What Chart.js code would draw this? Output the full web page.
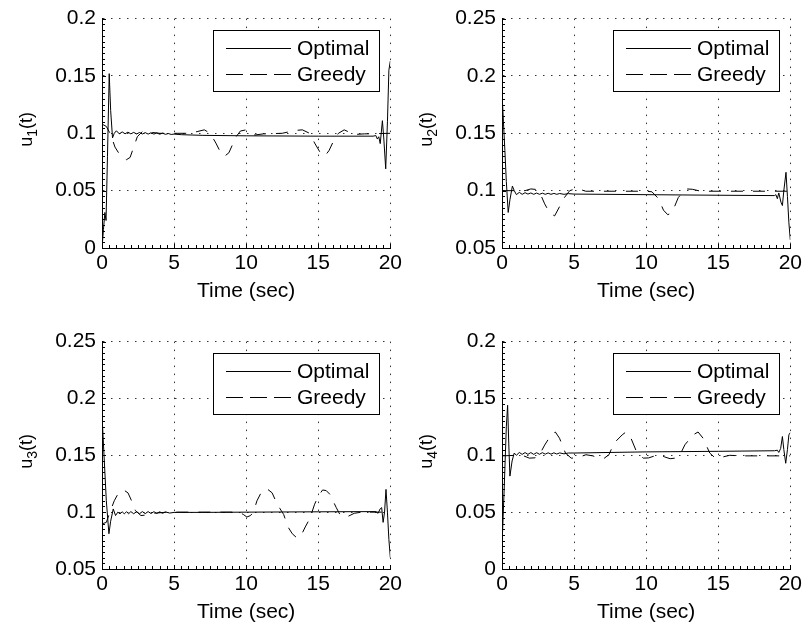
<!DOCTYPE html>
<html lang="en">
<head>
<meta charset="UTF-8" />
<title>Control inputs: Optimal vs Greedy</title>
<script src="https://cdn.jsdelivr.net/npm/chart.js"></script>
<style>
  body {
    margin: 0;
    background: #fff;
    width: 809px;
    height: 633px;
    position: relative;
    overflow: hidden;
  }
  canvas {
    position: absolute;
  }
</style>
</head>
<body>

<canvas id="u1" width="405" height="304" style="left:0px;top:0px"></canvas>
<canvas id="u2" width="405" height="304" style="left:400px;top:0px"></canvas>
<canvas id="u3" width="405" height="302" style="left:0px;top:323px"></canvas>
<canvas id="u4" width="405" height="302" style="left:400px;top:323px"></canvas>

<script>
  // [time (sec), value] pairs
  const u1Optimal = [[0,0],[0.1,0.016],[0.2,0.031],[0.28,0.024],[0.38,0.08],[0.5,0.152],[0.6,0.12],[0.73,0.096],[0.85,0.1],
    [1.0,0.1022],[1.2,0.0995],[1.4,0.1012],[1.6,0.0996],[1.8,0.101],[2.0,0.0995],[2.2,0.1008],[2.4,0.0994],[2.6,0.1007],
    [2.8,0.0994],[3.0,0.1006],[3.2,0.0993],[3.4,0.1005],[3.6,0.0993],[3.8,0.1003],[4.0,0.0992],[4.2,0.1001],[4.4,0.0991],
    [4.6,0.0998],[4.8,0.099],[5.0,0.0993],[5.5,0.0988],[7.0,0.0982],[10.0,0.0978],[15.0,0.0975],[18.8,0.0975],[19.0,0.098],
    [19.1,0.095],[19.2,0.097],[19.3,0.091],[19.45,0.111],[19.55,0.095],[19.68,0.069],[19.8,0.11],[19.9,0.155],[20.0,0.163]];
  const u1Greedy = [[0,0.108],[0.3,0.106],[0.6,0.099],[0.9,0.088],[1.2,0.082],[1.45,0.079],[1.7,0.077],[1.95,0.079],[2.2,0.088],
    [2.45,0.097],[2.8,0.1015],[3.3,0.101],[4.0,0.1],[6.0,0.1],[6.6,0.1015],[7.1,0.103],[7.5,0.1],[7.9,0.0915],[8.2,0.084],
    [8.5,0.08],[8.8,0.083],[9.05,0.09],[9.3,0.097],[9.6,0.102],[10.0,0.103],[10.6,0.0985],[11.2,0.0995],[12.5,0.1],
    [13.4,0.1025],[13.9,0.103],[14.4,0.1],[14.75,0.0915],[15.1,0.084],[15.45,0.08],[15.75,0.085],[16.05,0.093],[16.4,0.1],
    [16.8,0.103],[17.5,0.099],[18.2,0.0995],[20.0,0.1]];

  const u2Optimal = [[0,0.185],[0.1,0.16],[0.2,0.135],[0.3,0.108],[0.43,0.081],[0.55,0.092],[0.72,0.104],[0.85,0.1],
    [1.0,0.0965],[1.2,0.0985],[1.4,0.0968],[1.6,0.0982],[1.8,0.097],[2.0,0.098],[2.2,0.0968],[2.4,0.0979],[2.6,0.0968],
    [2.8,0.0978],[3.0,0.0968],[3.2,0.0977],[3.4,0.0968],[3.6,0.0976],[3.8,0.0968],[4.0,0.0975],[4.3,0.0968],[4.6,0.0974],
    [5.0,0.097],[10.0,0.0965],[15.0,0.096],[18.9,0.0957],[19.0,0.0965],[19.1,0.093],[19.2,0.098],[19.35,0.09],[19.45,0.087],
    [19.55,0.1],[19.7,0.116],[19.8,0.095],[19.9,0.072],[20.0,0.057]];
  const u2Greedy = [[0,0.1],[1.6,0.1],[2.0,0.1015],[2.4,0.101],[2.7,0.096],[2.96,0.0885],[3.2,0.083],[3.37,0.08],[3.65,0.078],
    [3.99,0.086],[4.33,0.094],[4.7,0.1],[5.2,0.102],[5.8,0.0995],[10.0,0.0995],[10.4,0.099],[10.86,0.093],[11.2,0.083],
    [11.5,0.079],[11.8,0.081],[12.23,0.094],[12.5,0.098],[12.8,0.1015],[13.2,0.1012],[13.8,0.0995],[20.0,0.0995]];

  const u3Optimal = [[0,0.185],[0.1,0.16],[0.2,0.135],[0.3,0.11],[0.48,0.081],[0.6,0.092],[0.78,0.1028],[0.94,0.097],
    [1.1,0.1],[1.25,0.0985],[1.4,0.1003],[1.55,0.0985],[1.7,0.1004],[1.85,0.0986],[2.0,0.1005],[2.2,0.0986],[2.4,0.1005],
    [2.6,0.0986],[2.8,0.1005],[3.0,0.0987],[3.2,0.1005],[3.4,0.0988],[3.6,0.1004],[3.8,0.0989],[4.0,0.1003],[4.2,0.099],
    [4.4,0.1002],[4.7,0.0992],[5.0,0.0998],[7.0,0.0998],[10.0,0.1],[15.0,0.1003],[19.0,0.1005],[19.15,0.099],[19.3,0.103],
    [19.4,0.104],[19.5,0.091],[19.6,0.1],[19.7,0.12],[19.8,0.1],[19.9,0.076],[20.0,0.06]];
  const u3Greedy = [[0,0.0897],[0.3,0.091],[0.55,0.1],[0.85,0.11],[1.15,0.117],[1.5,0.1195],[1.8,0.117],[2.0,0.1115],
    [2.32,0.1013],[2.7,0.097],[3.1,0.0975],[3.6,0.099],[4.5,0.1],[9.5,0.1],[9.8,0.098],[10.05,0.0957],[10.3,0.097],
    [10.5,0.1],[10.75,0.11],[11.1,0.1187],[11.45,0.1205],[11.8,0.117],[12.1,0.1085],[12.35,0.103],[12.6,0.098],[12.9,0.087],
    [13.2,0.081],[13.55,0.077],[13.85,0.0805],[14.1,0.087],[14.4,0.094],[14.75,0.107],[15.0,0.114],[15.3,0.1195],
    [15.55,0.119],[15.8,0.1158],[16.25,0.104],[16.5,0.098],[16.8,0.0955],[17.1,0.0965],[17.5,0.099],[18.0,0.1],[20.0,0.1]];

  const u4Optimal = [[0,0.02],[0.15,0.07],[0.3,0.125],[0.39,0.144],[0.47,0.11],[0.55,0.0817],[0.7,0.095],[0.85,0.102],
    [1.0,0.1],[1.2,0.1025],[1.4,0.1008],[1.6,0.1024],[1.8,0.1008],[2.0,0.1024],[2.2,0.1008],[2.4,0.1023],[2.6,0.1009],
    [2.8,0.1023],[3.0,0.101],[3.2,0.1022],[3.4,0.101],[3.6,0.1022],[3.8,0.1011],[4.0,0.1021],[4.3,0.1013],[4.6,0.102],
    [5.0,0.102],[10.0,0.103],[15.0,0.1035],[18.9,0.104],[19.1,0.1045],[19.2,0.1025],[19.33,0.106],[19.45,0.1165],
    [19.55,0.105],[19.68,0.093],[19.8,0.105],[19.9,0.118],[20.0,0.12]];
  const u4Greedy = [[0,0.0995],[1.0,0.1],[1.5,0.0995],[1.9,0.0975],[2.3,0.0978],[2.6,0.1005],[2.96,0.109],[3.41,0.118],
    [3.7,0.1205],[3.99,0.115],[4.4,0.102],[4.8,0.0975],[5.13,0.0977],[5.5,0.099],[5.82,0.1005],[6.3,0.0995],[6.74,0.0975],
    [7.1,0.0975],[7.42,0.1005],[7.77,0.1107],[8.34,0.118],[8.6,0.1205],[8.9,0.1165],[9.37,0.102],[9.8,0.0975],[10.17,0.0977],
    [10.86,0.1006],[11.3,0.0985],[11.66,0.097],[12.0,0.0975],[12.35,0.1005],[12.69,0.1093],[13.26,0.118],[13.6,0.1205],
    [13.95,0.115],[14.41,0.102],[14.8,0.0975],[15.3,0.0985],[15.8,0.1],[16.5,0.0995],[20.0,0.0995]];

  const seriesNames = ['Optimal', 'Greedy'];
  const xTitle = 'Time (sec)';

  const FONT = '"Liberation Sans", Arial, Helvetica, sans-serif';
  Chart.defaults.font.family = FONT;
  Chart.defaults.color = '#000';

  // y label with subscript, legend box and the small inward ticks
  const decor = {
    id: 'decor',
    beforeDatasetsDraw(chart) {
      const {ctx, chartArea: a, scales: {x, y}} = chart;
      ctx.save();
      ctx.strokeStyle = '#000';
      ctx.lineWidth = 1;
      ctx.beginPath();
      for (let i = 0; i <= 40; i++) {
        const px = Math.round(x.getPixelForValue(x.min + i * (x.max - x.min) / 40)) + 0.5;
        ctx.moveTo(px, a.bottom);
        ctx.lineTo(px, a.bottom - (i % 10 === 0 ? 4 : 3));
      }
      for (let i = 0; i <= 40; i++) {
        const py = Math.round(y.getPixelForValue(y.min + i * (y.max - y.min) / 40)) + 0.5;
        ctx.moveTo(a.left, py);
        ctx.lineTo(a.left + (i % 10 === 0 ? 4 : 3), py);
      }
      ctx.stroke();
      ctx.restore();
    },
    afterDraw(chart, args, opts) {
      const {ctx, chartArea: a} = chart;
      ctx.save();
      // y axis label
      ctx.translate(a.left - 75, (a.top + a.bottom) / 2 - 4);
      ctx.rotate(-Math.PI / 2);
      ctx.fillStyle = '#000';
      ctx.textBaseline = 'middle';
      ctx.textAlign = 'left';
      ctx.font = '18px ' + FONT;
      const w1 = ctx.measureText('u').width;
      const w3 = ctx.measureText('(t)').width;
      ctx.font = '14px ' + FONT;
      const w2 = ctx.measureText(opts.sub).width;
      let x0 = -(w1 + w2 + w3) / 2;
      ctx.font = '18px ' + FONT;
      ctx.fillText('u', x0, 0);
      ctx.font = '14px ' + FONT;
      ctx.fillText(opts.sub, x0 + w1, 6);
      ctx.font = '18px ' + FONT;
      ctx.fillText('(t)', x0 + w1 + w2, 0);
      ctx.restore();

      // legend
      const bw = 166, bh = 61;
      const bx = Math.round(a.right - 11 - bw), by = Math.round(a.top + 11);
      ctx.save();
      ctx.fillStyle = '#fff';
      ctx.fillRect(bx, by, bw, bh);
      ctx.strokeStyle = '#000';
      ctx.lineWidth = 1;
      ctx.strokeRect(bx + 0.5, by + 0.5, bw, bh);
      ctx.font = '21px ' + FONT;
      ctx.fillStyle = '#000';
      ctx.textBaseline = 'middle';
      [[18, []], [44, [17, 7]]].forEach(([dy, dash], i) => {
        ctx.beginPath();
        ctx.setLineDash(dash);
        ctx.moveTo(bx + 13, by + dy + 0.5);
        ctx.lineTo(bx + 78, by + dy + 0.5);
        ctx.stroke();
        ctx.fillText(seriesNames[i], bx + 84, by + dy + 1);
      });
      ctx.restore();
    }
  };

  function makeChart(id, optimal, greedy, yMin, yMax, sub) {
    const toXY = arr => arr.map(([t, v]) => ({x: t, y: v}));
    new Chart(document.getElementById(id), {
      type: 'line',
      data: {
        datasets: [
          { label: seriesNames[0], data: toXY(optimal), borderColor: '#000', borderWidth: 1, pointRadius: 0, tension: 0 },
          { label: seriesNames[1], data: toXY(greedy), borderColor: '#000', borderWidth: 1, borderDash: [12, 10], pointRadius: 0, tension: 0 }
        ]
      },
      options: {
        responsive: false,
        animation: false,
        devicePixelRatio: 1,
        layout: { padding: { left: 0, top: 16, right: 12, bottom: 0 } },
        plugins: { legend: { display: false }, tooltip: { enabled: false }, decor: { sub: sub } },
        scales: {
          x: {
            type: 'linear', min: 0, max: 20,
            ticks: { stepSize: 5, autoSkip: false, maxRotation: 0, padding: 3, color: '#000', font: { size: 21 } },
            grid: { color: '#333', drawTicks: false },
            border: { color: '#000', width: 1, dash: [1.5, 6.5] },
            title: { display: true, text: xTitle, color: '#000', font: { size: 21 }, padding: 0 },
            afterFit: s => { s.height = 56; }
          },
          y: {
            type: 'linear', min: yMin, max: yMax,
            ticks: { stepSize: 0.05, padding: 6, color: '#000', font: { size: 21 },
              callback: v => String(+v.toFixed(3)) },
            grid: { color: '#333', drawTicks: false },
            border: { color: '#000', width: 1, dash: [1.5, 6.5] },
            afterFit: s => { s.width = 102; }
          }
        }
      },
      plugins: [decor]
    });
  }

  makeChart('u1', u1Optimal, u1Greedy, 0, 0.2, '1');
  makeChart('u2', u2Optimal, u2Greedy, 0.05, 0.25, '2');
  makeChart('u3', u3Optimal, u3Greedy, 0.05, 0.25, '3');
  makeChart('u4', u4Optimal, u4Greedy, 0, 0.2, '4');
</script>

</body>
</html>
